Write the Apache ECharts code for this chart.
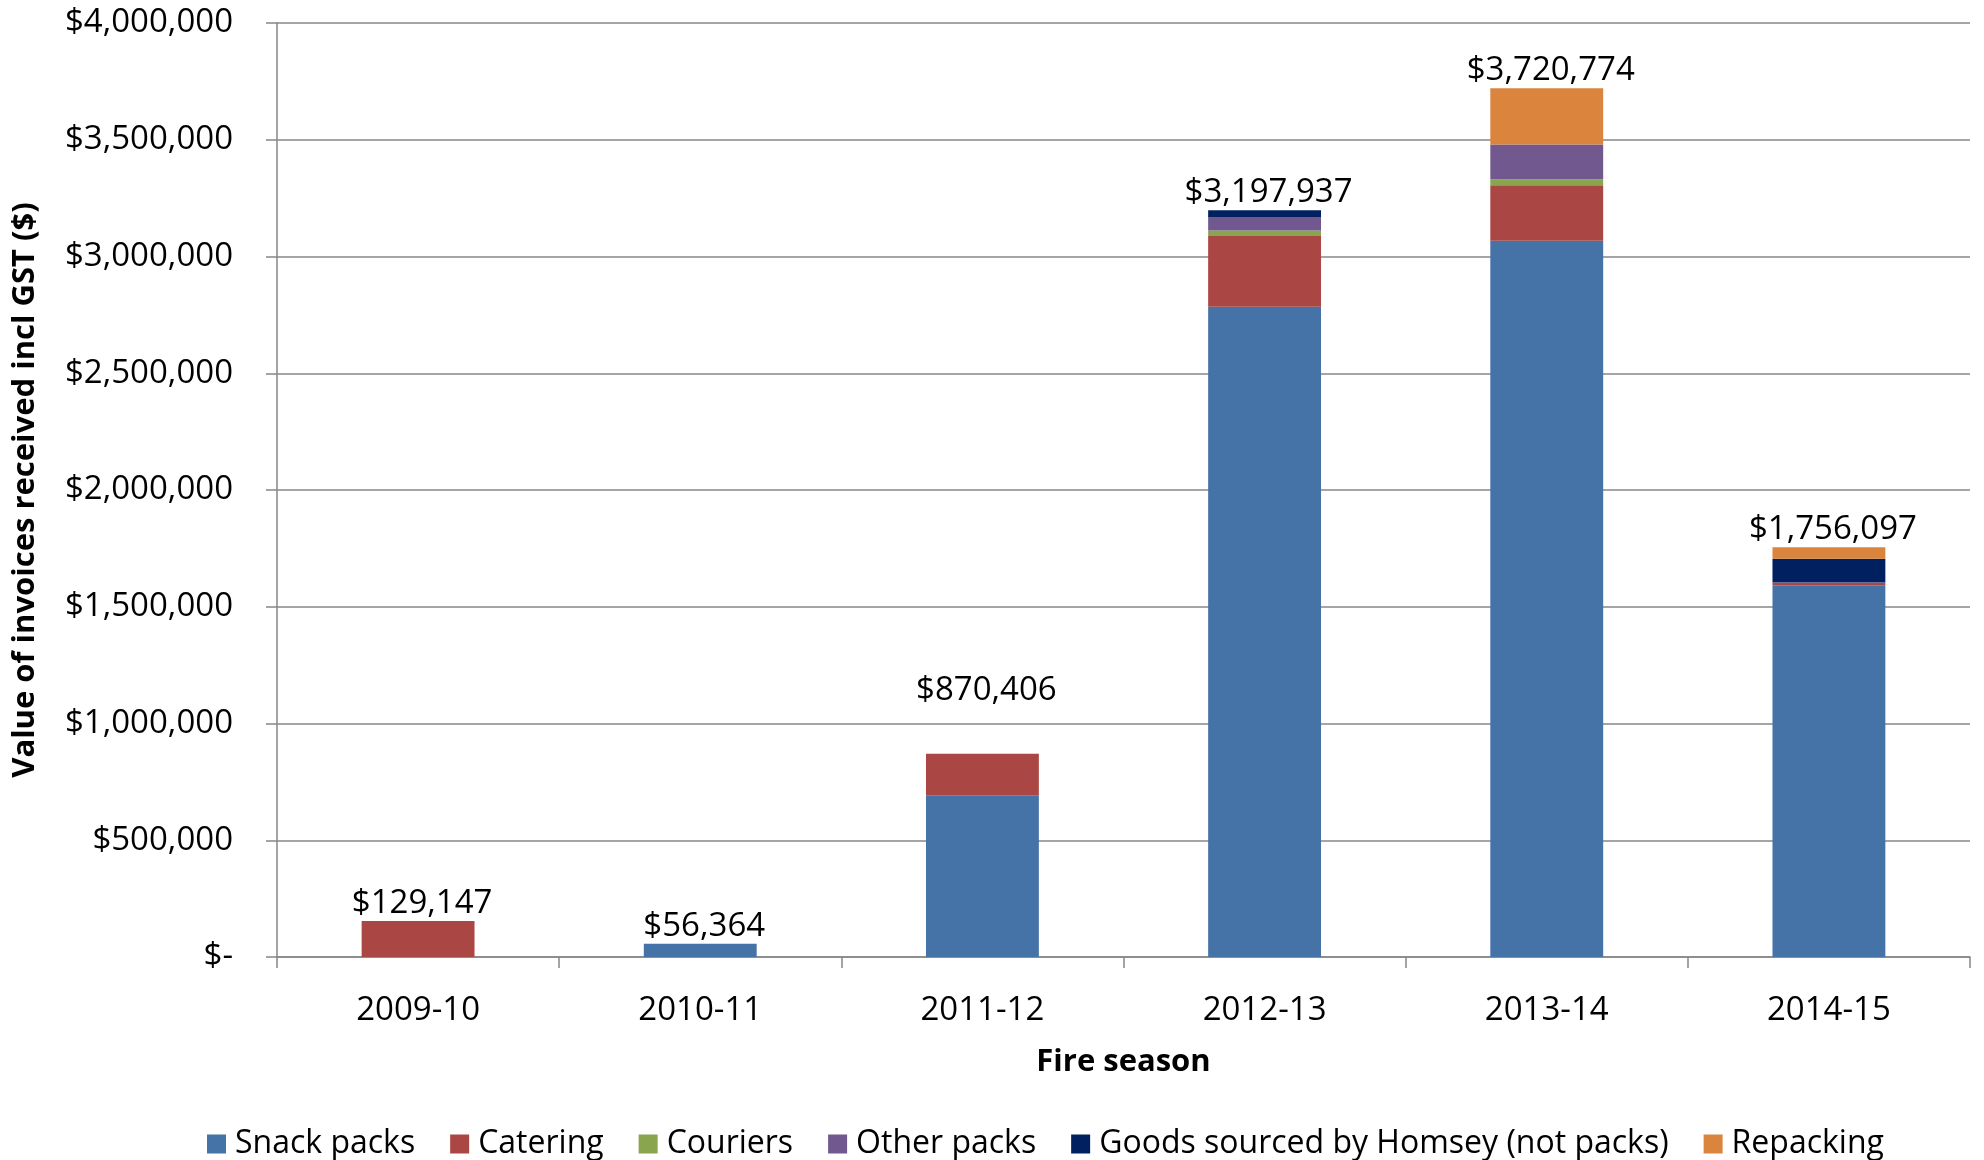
<!DOCTYPE html>
<html>
<head>
<meta charset="utf-8">
<script src="https://cdn.jsdelivr.net/npm/echarts@6/dist/echarts.min.js"></script>
<style>
html,body{margin:0;padding:0;background:#fff;}
#chart{width:1984px;height:1160px;}
</style>
</head>
<body>
<div id="chart"></div>
<script>
const seasons = ['2009-10','2010-11','2011-12','2012-13','2013-14','2014-15'];
const snackPacks = [0, 56364, 693000, 2785000, 3067000, 1592000];
const catering   = [154000, 0, 177400, 303000, 238000, 10000];
const couriers   = [0, 0, 0, 23000, 25700, 0];
const otherPacks = [0, 0, 0, 56000, 149000, 3000];
const goodsHomsey= [0, 0, 0, 31000, 0, 101000];
const repacking  = [0, 0, 0, 0, 241000, 49000];
const totalLabels = ['$129,147','$56,364','$870,406','$3,197,937','$3,720,774','$1,756,097'];

const FONT = '"Open Sans", sans-serif';
const seriesDefs = [
  ['Snack packs', snackPacks, '#4572A7'],
  ['Catering', catering, '#AA4643'],
  ['Couriers', couriers, '#89A54E'],
  ['Other packs', otherPacks, '#71588F'],
  ['Goods sourced by Homsey (not packs)', goodsHomsey, '#002060'],
  ['Repacking', repacking, '#DB843D']
];

function money(v){
  if (v === 0) return '$-';
  return '$' + v.toString().replace(/\B(?=(\d{3})+(?!\d))/g, ',');
}

const series = seriesDefs.map(d => ({
  name: d[0], type: 'bar', stack: 'total', barWidth: '40%',
  data: d[1], itemStyle: {color: d[2]}, emphasis: {disabled: true}
}));
series.push({
  name: 'Total', type: 'bar', stack: 'total', barWidth: '40%',
  data: seasons.map((s, i) => i === 2 ? {value: 0, label: {offset: [4, -46]}} : 0),
  itemStyle: {color: 'rgba(0,0,0,0)'},
  label: {
    show: true, position: 'top', distance: 1, offset: [4, 0],
    fontFamily: FONT, fontSize: 33, color: '#000',
    formatter: p => totalLabels[p.dataIndex]
  },
  emphasis: {disabled: true}
});

const chart = echarts.init(document.getElementById('chart'));
chart.setOption({
  animation: false,
  backgroundColor: '#fff',
  grid: {left: 277, right: 14, top: 23, bottom: 203, containLabel: false},
  legend: {
    data: seriesDefs.map(d => d[0]),
    left: 202, top: 1123,
    icon: 'rect', itemWidth: 19, itemHeight: 19, itemGap: 35,
    textStyle: {fontFamily: FONT, fontSize: 32, color: '#000', padding: [0,0,0,4]}
  },
  xAxis: {
    type: 'category', data: seasons,
    name: 'Fire season', nameLocation: 'middle', nameGap: 90,
    nameTextStyle: {fontFamily: FONT, fontSize: 31, fontWeight: 'bold', color: '#000'},
    axisLine: {lineStyle: {color: '#878787', width: 1.5}},
    axisTick: {show: true, length: 11, alignWithLabel: false, lineStyle: {color: '#878787', width: 1.5}},
    axisLabel: {fontFamily: FONT, fontSize: 33, color: '#000', margin: 37}
  },
  yAxis: {
    type: 'value', min: 0, max: 4000000, interval: 500000,
    name: 'Value of invoices received incl GST ($)', nameLocation: 'middle', nameGap: 236,
    nameTextStyle: {fontFamily: FONT, fontSize: 31, fontWeight: 'bold', color: '#000'},
    axisLine: {show: true, lineStyle: {color: '#878787', width: 1.5}},
    axisTick: {show: true, length: 11, lineStyle: {color: '#878787', width: 1.5}},
    splitLine: {show: true, lineStyle: {color: '#878787', width: 1.5}},
    axisLabel: {fontFamily: FONT, fontSize: 33, color: '#000', margin: 44,
      formatter: v => money(v)}
  },
  series: series
});
</script>
</body>
</html>
